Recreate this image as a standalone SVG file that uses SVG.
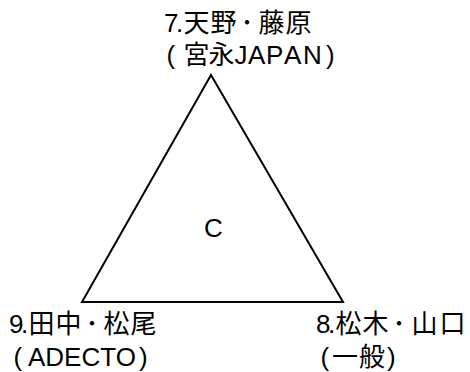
<svg xmlns="http://www.w3.org/2000/svg" width="470" height="372" viewBox="0 0 470 372">
<style>
text{font-family:"Liberation Sans","Noto Sans CJK JP",sans-serif;font-size:26px;fill:#000}
.edge{fill:none;stroke:#000;stroke-width:2}
</style>
<rect width="470" height="372" fill="#fff"/>
<g id="connectors">
<polygon class="edge" points="211,75 82,302 343,302"/>
</g>
<g id="node7">
<text x="164 176 183.5 210.5 240.5 258.5 285.5" y="32">7.天野･藤原</text>
<text y="64"><tspan x="166.5">(</tspan><tspan x="183.5 208.5">宮永</tspan><tspan x="234.5 248 266 284 303">JAPAN</tspan><tspan x="326">)</tspan></text>
</g>
<g id="node9">
<text x="9 21 28.5 55.5 85.5 103.5 130.5" y="333">9.田中･松尾</text>
<text y="366"><tspan x="13.5">(</tspan><tspan x="28">ADECTO</tspan><tspan x="139">)</tspan></text>
</g>
<g id="node8">
<text x="316 328 335.5 362.5 392.5 411.5 439.5" y="333">8.松木･山口</text>
<text y="366"><tspan x="320.5">(</tspan><tspan x="332 359">一般</tspan><tspan x="387">)</tspan></text>
</g>
<g id="center">
<text x="204" y="237">C</text>
</g>
</svg>
